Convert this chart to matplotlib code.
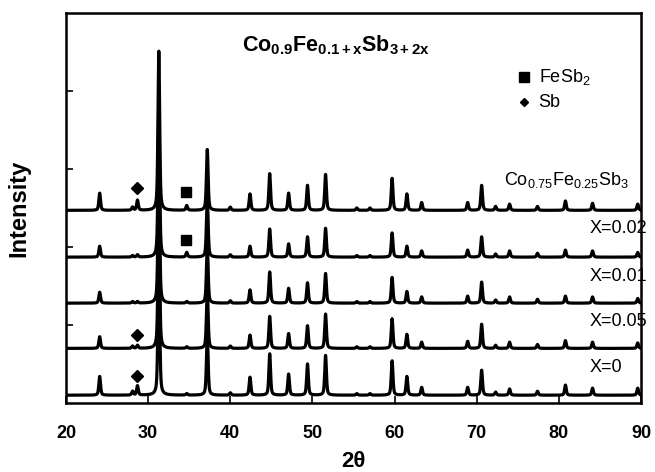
import numpy as np
import matplotlib
matplotlib.use("Agg")
import matplotlib.pyplot as plt

plt.rcParams["font.family"] = ["Liberation Sans", "DejaVu Sans"]
plt.rcParams["mathtext.fontset"] = "custom"
plt.rcParams["mathtext.rm"] = "Liberation Sans"
plt.rcParams["mathtext.bf"] = "Liberation Sans:bold"
plt.rcParams["mathtext.it"] = "Liberation Sans:italic"

# ---- data (peak positions in 2theta, peak heights in a.u. per pattern) ----
peak_pos = [24.1, 28.1, 28.7, 31.3, 34.7, 37.2, 40.0, 42.4, 44.8, 47.1, 49.4,
            51.6, 55.4, 57.0, 59.7, 61.5, 63.3, 68.9, 70.6, 72.3, 74.0, 77.4,
            80.8, 84.1, 89.6]

h_co075 = [22, 4, 13, 204, 6, 78, 4, 21, 47, 22, 32, 46, 3, 3, 41, 21, 10,
           10, 32, 5, 8, 5, 12, 9, 8]
h_x002 = [14, 2, 3, 192, 6, 77, 3, 14, 36, 17, 26, 37, 2, 2, 31, 14, 8,
          9, 26, 4, 8, 5, 9, 8, 6]
h_x001 = [14, 2, 2, 190, 2, 75, 3, 17, 40, 19, 26, 38, 2, 2, 33, 15, 8,
          9, 27, 4, 8, 5, 9, 8, 6]
h_x005 = [15, 3, 4, 190, 2, 75, 3, 17, 41, 19, 29, 44, 2, 2, 38, 18, 8,
          9, 31, 4, 8, 5, 10, 8, 7]
h_x0 = [24, 5, 12, 200, 2, 78, 3, 23, 53, 27, 40, 51, 2, 2, 44, 24, 10,
        10, 32, 4, 8, 5, 13, 9, 9]

offsets = [10, 70, 128, 187, 247]          # X=0, X=0.05, X=0.01, X=0.02, Co0.75
series = [h_x0, h_x005, h_x001, h_x002, h_co075]
labels = ["X=0", "X=0.05", "X=0.01", "X=0.02", r"Co$_{0.75}$Fe$_{0.25}$Sb$_3$"]

xticks = [20, 30, 40, 50, 60, 70, 80, 90]
yticks = [100, 200, 300, 400]

# phase markers: (2theta, y in a.u.)
sb_marks_x = [28.6, 28.6, 28.6]
sb_marks_y = [276, 87, 35]
fesb2_marks_x = [34.6, 34.6]
fesb2_marks_y = [271, 209]


def profile(x, pos, heights, fwhm=0.24, eta=0.5):
    y = np.zeros_like(x)
    g = fwhm / 2.0
    s = fwhm / 2.3548
    for p, h in zip(pos, heights):
        L = 1.0 / (1.0 + ((x - p) / g) ** 2)
        G = np.exp(-0.5 * ((x - p) / s) ** 2)
        y += h * (eta * L + (1 - eta) * G)
    return y


fig = plt.figure(figsize=(6.55, 4.72), dpi=100)
ax = fig.add_axes([66 / 655, 1 - 403 / 472, 575 / 655, 390 / 472])

x = np.linspace(20, 90, 3501)
for off, h in zip(offsets, series):
    ax.plot(x, off + profile(x, peak_pos, h), color="black", lw=2.3,
            solid_joinstyle="round")

ax.set_xlim(20, 90)
ax.set_ylim(0, 500)
ax.set_xticks(xticks)
ax.set_yticks(yticks)
ax.set_yticklabels([])
ax.tick_params(direction="in", length=5, width=1.2)
ax.tick_params(axis="x", labelsize=13, pad=16)
for lab in ax.get_xticklabels():
    lab.set_fontweight("bold")
for sp in ax.spines.values():
    sp.set_linewidth(1.8)

ax.set_xlabel("2θ", fontsize=16, fontweight="bold", labelpad=6,
              family=["Liberation Sans", "DejaVu Sans"])
ax.set_ylabel("Intensity", fontsize=17, fontweight="bold", labelpad=22)

# markers
ax.plot(sb_marks_x, sb_marks_y, "D", color="black", ms=6.5, ls="none")
ax.plot(fesb2_marks_x, fesb2_marks_y, "s", color="black", ms=7, ls="none")

# title formula
ax.text(0.47, 0.918, r"$\mathbf{Co_{0.9}Fe_{0.1+x}Sb_{3+2x}}$", transform=ax.transAxes,
        ha="center", va="center", fontsize=15.5)

# legend (manual)
ax.plot([0.796], [0.835], "s", transform=ax.transAxes, color="black", ms=6.5)
ax.text(0.822, 0.835, r"FeSb$_2$", transform=ax.transAxes, ha="left",
        va="center", fontsize=13)
ax.plot([0.796], [0.771], "D", transform=ax.transAxes, color="black", ms=4.5)
ax.text(0.822, 0.771, "Sb", transform=ax.transAxes, ha="left",
        va="center", fontsize=13)

# trace labels
label_y = [46, 105, 162, 224, 286]
for ly, lab in zip(label_y, labels):
    is_x = lab.startswith("X")
    ax.text(83.7 if is_x else 88.6, ly, lab, ha="left" if is_x else "right",
            va="center", fontsize=13)

fig.savefig("out.png", dpi=100)
